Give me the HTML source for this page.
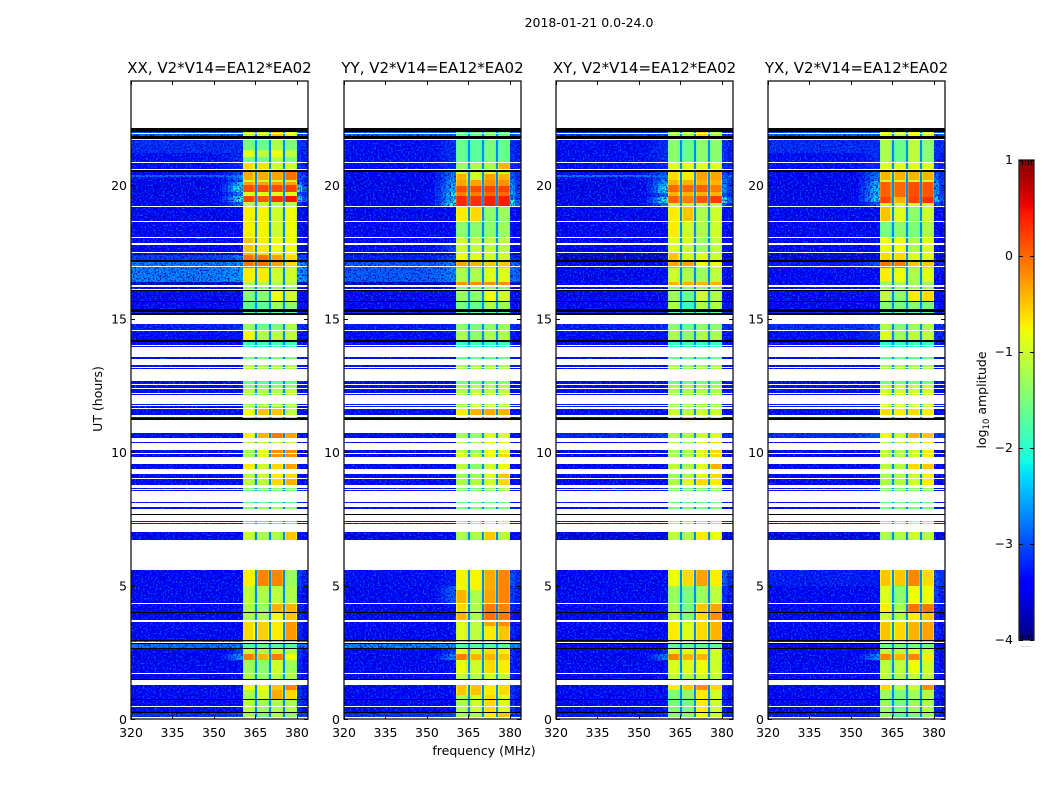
<!DOCTYPE html>
<html>
<head>
<meta charset="utf-8">
<title>2018-01-21 0.0-24.0</title>
<style>
html,body{margin:0;padding:0;background:#fff;width:1050px;height:800px;overflow:hidden}
svg{display:block}
text{font-family:"DejaVu Sans","Liberation Sans",sans-serif;fill:#000}
</style>
</head>
<body>
<svg id="figure" xmlns="http://www.w3.org/2000/svg" width="1050" height="800" viewBox="0 0 1050 800">
<defs>
<filter id="grain" x="0" y="0" width="1" height="1" color-interpolation-filters="sRGB">
<feTurbulence type="fractalNoise" baseFrequency="0.6" numOctaves="1" seed="4" result="n"/>
<feColorMatrix in="n" type="matrix" values="0 0 0 0 0  0 0 0 0 .4  0 0 0 0 1  4 0 0 0 -2.05" result="lightRaw"/>
<feComposite in="lightRaw" in2="SourceAlpha" operator="in" result="light"/>
<feColorMatrix in="n" type="matrix" values="0 0 0 0 0  0 0 0 0 0  0 0 0 0 .72  0 4.5 0 0 -2.1" result="darkRaw"/>
<feComposite in="darkRaw" in2="SourceAlpha" operator="in" result="dark"/>
<feMerge><feMergeNode in="SourceGraphic"/><feMergeNode in="dark"/><feMergeNode in="light"/></feMerge>
</filter>
</defs>
<text x="589" y="27" font-size="12.5" text-anchor="middle">2018-01-21 0.0-24.0</text>
<text x="484" y="755" font-size="12.5" text-anchor="middle">frequency (MHz)</text>
<text x="102" y="399" font-size="12.5" text-anchor="middle" transform="rotate(-90 102 399)">UT (hours)</text>
<text x="986" y="400" font-size="12.5" text-anchor="middle" transform="rotate(-90 986 400)">log<tspan font-size="8.5" dy="3">10</tspan><tspan dy="-3"> amplitude</tspan></text>
<g id="panels"></g>
<g id="colorbar"></g>
</svg>
<script>
// Observation bands in UT hours that hold data
const dataBands = [[.07,.22],[.26,.45],[.49,.71],[.75,1.27],[1.5,1.69],[1.72,2.62],[2.66,2.81],[2.89,2.92],[2.96,3.64],[3.71,3.97],[4.01,4.31],[4.35,5.58],[6.71,7.01],[7.3,7.35],[7.38,7.42],[7.87,7.95],[8.1,8.13],[8.53,8.57],[8.62,8.66],[8.77,8.99],[9.03,9.18],[9.38,9.56],[9.82,9.93],[9.98,10.08],[10.33,10.38],[10.53,10.72],[11.28,11.33],[11.39,11.63],[11.67,11.71],[11.76,11.81],[12.12,12.16],[12.21,12.36],[12.41,12.52],[12.56,12.67],[13.12,13.16],[13.18,13.27],[13.49,13.57],[13.95,13.99],[14.02,14.13],[14.21,14.54],[14.58,14.8],[15.22,15.25],[15.37,15.63],[15.67,16.04],[16.1,16.18],[16.27,16.38],[16.38,16.85],[16.89,16.94],[16.98,17.13],[17.2,17.39],[17.39,17.47],[17.5,17.77],[17.82,18.03],[18.07,18.63],[18.67,19.19],[19.23,20.49],[20.61,20.82],[20.87,21.7],[21.85,21.91],[21.95,22.0]];
// Flagged intervals rendered black
const flaggedBands = [[.22,.26],[.71,.75],[1.46,1.5],[2.62,2.66],[2.81,2.85],[2.92,2.96],[3.97,4.01],[7.65,7.69],[11.19,11.28],[14.13,14.21],[15.14,15.22],[15.25,15.37],[15.63,15.67],[16.04,16.08],[17.13,17.2],[20.49,20.58],[21.74,21.85],[22.0,22.15]];

const panelTitles = ["XX, V2*V14=EA12*EA02","YY, V2*V14=EA12*EA02","XY, V2*V14=EA12*EA02","YX, V2*V14=EA12*EA02"];
const panelKeys = ["xx","yy","xy","yx"];
const freqTicks = [320,335,350,365,380];
const utTicks = [0,5,10,15,20];
const colorbarTicks = [1,0,-1,-2,-3,-4];

// Spectral windows in MHz
const spwRanges = [[360.5,364.7],[365.4,369.9],[370.5,375],[375.6,380]];
const gapRanges = [[364.7,365.4],[369.9,370.5],[375,375.6]];

// log10 amplitude per window: [ut lower edge, spw1, spw2, spw3, spw4]
const spwXX = [[0,-1.2,-1.5,-1.2,-1.4],[.26,-1.1,-1.3,-1.2,-1.2],[.75,-1.2,-.95,-.35,-.6],[1.09,-.75,-.8,-.5,-.15],[1.5,-1.2,-1.3,-1.2,-1.2],[1.72,-1.3,-1.4,-1,-1.3],[2.2,-.1,-.4,-.1,-.8],[2.44,-1.1,-1.2,-1,-1.2],[2.66,-1.7,-1.6,-1.7,-1.7],[2.96,-.6,-.55,-.7,-.25],[3.71,-1.2,-1.2,-.8,-.5],[4.01,-1.2,-1.3,-.4,-.4],[4.35,-1.1,-1.2,-1.1,-1.2],[5,-.7,-.15,-.15,-1.3],[6.71,-1,-1.2,-1.2,-.5],[7.3,-1.9,-1.9,-1.9,-1.9],[7.87,-1.4,-1.3,-1.3,-1.4],[8.1,-1.6,-1.6,-1.6,-1.6],[8.6,-1.4,-1.4,-1.4,-1.4],[8.77,-1.1,-1.1,-.6,-.4],[9.03,-1.1,-1,-.7,-.6],[9.38,-.7,-1,-.6,-.3],[9.82,-1.2,-.85,-.2,-.2],[10.33,-1.1,-1.1,-1.1,-1.1],[10.53,-.75,-.4,-.1,-.3],[11.28,-1.3,-1.3,-1.3,-1.3],[11.39,-.8,-.5,-.5,-1.1],[11.7,-1.2,-1.2,-1.2,-1.2],[12.21,-1.1,-1.2,-1.2,-1.1],[12.41,-1.4,-1.4,-1.4,-1.4],[12.56,-1.6,-1.7,-1.7,-1.6],[13.12,-1.1,-1.2,-1.2,-1.2],[13.49,-1.5,-1.5,-1.5,-1.5],[13.95,-1.9,-1.9,-1.9,-1.9],[14.02,-1.8,-1.8,-1.8,-1.8],[14.21,-.75,-1.2,-1.1,-1.1],[14.58,-1.3,-1.6,-1.5,-1.2],[15.22,-1.7,-1.7,-1.7,-1.7],[15.37,-1.6,-1.6,-1.3,-1.4],[15.67,-1.4,-1.4,-.8,-1],[16.1,-1.4,-1.4,-1.4,-1.4],[16.27,-1.2,-1.2,-1.2,-1.2],[16.38,-.7,-.7,-1,-1],[16.9,-.05,-.05,-.3,-.6],[17.39,-.4,-.6,-.7,-.8],[17.5,-.5,-.7,-.8,-.8],[18.07,-.7,-.75,-1,-.8],[19.23,-1.1,-1.1,-1.1,-1.1],[19.38,.2,.1,.3,.45],[19.6,-.9,-.9,-.9,-.9],[19.75,.15,.15,.15,.2],[20,-.3,-.3,-.3,-.3],[20.12,-1,-1,-1,-1],[20.2,-.35,-.35,-.3,-.05],[20.61,-.6,-.65,-1,-1],[20.87,-1.5,-1.6,-1.2,-1.5],[21.05,-.9,-1.1,-.8,-1.1],[21.3,-1.5,-1.6,-1.2,-1.5],[21.85,-1,-1,-.5,-.9]];
const spwYY = [[0,-1.2,-1.2,-.7,-.5],[.26,-1.2,-1,-.6,-.9],[.75,-1.2,-1,-.6,-.9],[.9,-.5,-.5,-.7,-.6],[1.5,-1.1,-1.2,-1,-1.1],[1.72,-.8,-1,-.6,-.7],[2.2,-.1,-.4,-.4,-.5],[2.44,-.8,-1,-.6,-.7],[2.66,-1.7,-1.7,-1.7,-1.7],[2.96,-.9,-1.1,-.7,-.5],[3.5,-.9,-1.1,-.3,-.2],[3.71,-.4,-1.2,-.05,-.1],[4.01,-.6,-1.2,-.1,-.15],[4.35,-.4,-1.2,-.3,-.15],[4.83,-.75,-.75,-.35,-.15],[6.71,-1.2,-1.2,-.5,-1.1],[7.3,-1.2,-1.3,-.9,-.8],[7.6,-1.5,-1.5,-1.5,-1.5],[8.5,-1.4,-1.5,-1.3,-1.2],[8.77,-1.2,-1.2,-1,-.6],[9.03,-1.3,-1.3,-.9,-.5],[9.38,-1.1,-1.4,-1,-.8],[9.82,-.9,-1.1,-.8,-.6],[9.98,-1.1,-1.3,-.8,-.9],[10.53,-1.2,-1.3,-.9,-.9],[11.28,-.8,-.6,-.5,-.5],[11.39,-.7,-.4,-.35,-.4],[11.67,-1.2,-1.1,-1.1,-1.1],[12.56,-1.5,-1.5,-1.4,-1.4],[13.12,-1.2,-1.2,-1.2,-1.2],[13.49,-1.6,-1.6,-1.6,-1.6],[13.95,-1.9,-1.9,-1.9,-1.9],[14.21,-1.2,-1.4,-1.2,-1.2],[14.58,-1.4,-1.5,-1.4,-1.3],[15.22,-1.7,-1.7,-1.7,-1.7],[15.37,-1.5,-1.6,-1.2,-1.3],[15.67,-1.3,-1.4,-.8,-1],[16.1,-1.4,-1.4,-1.4,-1.4],[16.27,-.2,-.2,-.2,-.2],[16.38,-1.2,-1.2,-.9,-.9],[16.9,-.3,-.4,-.5,-.5],[17.2,-.8,-.9,-1,-1],[17.5,-1,-1.1,-1.1,-1.1],[18.07,-1.4,-1.4,-1.4,-1.3],[18.67,-.7,-.6,-1.4,-1.3],[19.23,.35,.3,.4,.4],[19.6,-.1,-.1,0,0],[19.75,.15,.15,.2,.2],[19.95,-.3,-.3,-.2,-.2],[20.2,-.4,-1,-.3,-.4],[20.4,-1,-1,-.9,-1],[20.61,-1.3,-1.2,-1.2,-.4],[20.87,-1.6,-1.7,-1.5,-1.6],[21.85,-1.6,-1.6,-1.4,-1.6]];
const spwXY = [[0,-1.4,-1.4,-.8,-1],[.26,-1.5,-1.5,-.7,-1],[.75,-1.5,-1.4,-.7,-1],[1.09,-.7,-.5,-.2,-.6],[1.5,-1.1,-1.2,-1,-1.1],[1.72,-.9,-.9,-.8,-1],[2.2,-.15,-.4,-.4,-1],[2.44,-.9,-.9,-.8,-1],[2.66,-1.6,-1.6,-1.6,-1.6],[2.96,-.7,-.9,-.6,-.4],[3.71,-1.1,-1.4,-.6,-.2],[4.01,-1.2,-1.5,-.5,-.3],[4.35,-1.3,-1.5,-1.3,-1.1],[5,-.8,-.6,-.3,-.7],[6.71,-1.1,-1.2,-.7,-.8],[7.3,-1.3,-1.4,-1.2,-1.2],[7.6,-1.5,-1.5,-1.5,-1.5],[8.5,-1.4,-1.5,-1.4,-1.3],[8.77,-1.2,-.9,-.6,-.7],[9.03,-1.3,-1.2,-.9,-.6],[9.38,-1.1,-1.2,-.9,-.4],[9.82,-1.2,-1.2,-.9,-.6],[10.53,-1.1,-1.2,-1,-.9],[11.28,-1.1,-1.1,-1,-1],[11.39,-1,-1.1,-1,-1],[11.67,-1.2,-1.2,-1.2,-1.2],[12.56,-1.6,-1.6,-1.5,-1.5],[13.12,-1.2,-1.3,-1.2,-1.2],[13.49,-1.6,-1.6,-1.6,-1.6],[13.95,-1.9,-1.9,-1.9,-1.9],[14.21,-1.2,-1.4,-1.2,-1.2],[14.58,-1.4,-1.6,-1.4,-1.4],[15.22,-1.7,-1.7,-1.7,-1.7],[15.37,-1.2,-1.9,-1.2,-1.2],[15.67,-1.3,-1.6,-1,-1.2],[16.1,-1.4,-1.4,-1.4,-1.4],[16.27,-.4,-.4,-.4,-.4],[16.38,-1,-1.2,-1.3,-1.1],[16.9,-.3,-.3,-.8,-.8],[17.2,-.5,-1,-.9,-1],[17.5,-.9,-1,-1.3,-1.1],[18.07,-.7,-1,-1.2,-1],[18.67,-.7,-.5,-1.2,-1],[19.23,-1.1,-1.1,-1.1,-1.1],[19.33,.05,-.1,.1,.25],[19.6,-.4,-.4,-.4,-.4],[19.75,0,0,.05,-.1],[20,-.4,-.4,-.4,-.4],[20.2,-.6,-.7,-.3,-.3],[20.61,-.9,-.9,-.9,-.9],[20.87,-1.4,-1.6,-1.4,-1.4],[21.85,-1.2,-1.2,-.6,-1.2]];
const spwYX = [[0,-1.3,-1.7,-1.5,-1.3],[.26,-1.3,-1.5,-1.3,-1.2],[1.09,-.6,-1.1,-1,-.2],[1.5,-1.1,-1.2,-1.1,-1.1],[1.72,-1.1,-1.1,-.8,-1],[2.2,-.15,-.4,-.15,-.7],[2.44,-1.1,-1.1,-.8,-1],[2.66,-1.5,-1.5,-1.5,-1.5],[2.96,-.5,-.6,-.4,-.3],[3.71,-1,-1.2,-.7,-.5],[4.01,-.7,-1.2,-.05,-.05],[4.35,-.9,-1.4,-.8,-.8],[5,-.5,-.5,-.15,-.6],[6.71,-1.2,-1.2,-1,-1.1],[7.3,-1.2,-1.3,-1.1,-1.1],[7.6,-1.5,-1.5,-1.5,-1.5],[8.5,-1.4,-1.5,-1.4,-1.3],[8.77,-1.2,-1.2,-1,-.7],[9.38,-1.1,-1.2,-.6,-.5],[9.82,-1.1,-1.2,-1,-.7],[10.53,-.8,-1,-.4,-.5],[11.28,-.9,-.9,-.8,-.8],[11.39,-.6,-.7,-.6,-.7],[11.67,-1,-1,-1,-1],[12.56,-1.5,-1.5,-1.5,-1.5],[13.12,-1.2,-1.2,-1.2,-1.2],[13.49,-1.6,-1.6,-1.6,-1.6],[13.95,-1.9,-1.9,-1.9,-1.9],[14.21,-.9,-1.3,-1.1,-1.1],[14.58,-1.2,-1.5,-1.3,-1.2],[15.22,-1.7,-1.7,-1.7,-1.7],[15.37,-1.4,-1.5,-1.4,-1.5],[15.67,-1.1,-1.4,-.7,-.6],[16.1,-1.3,-1.3,-1.3,-1.3],[16.38,-.7,-.8,-1.2,-.9],[16.9,-.05,-.1,-.5,-.5],[17.2,-.6,-.6,-.9,-.9],[17.5,-.8,-.8,-1.2,-.9],[18.07,-1.5,-1.4,-1.5,-1.2],[18.67,-.5,-.9,-1.4,-1],[19.23,-1,-1,-1,-1],[19.33,.2,-.4,.2,.3],[19.55,.05,0,.15,.1],[20.1,-1,-1,-1,-1],[20.2,-.4,-.4,-.4,-.4],[20.61,-.9,-.9,-.9,-.9],[20.87,-1.2,-1.6,-1.1,-1.4],[21.85,-.9,-1.1,-.8,-1]];

// log10 amplitude outside the windows: [ut lower edge, low band, band-edge shoulder, above 380 MHz]
const bgXX = [[0,-3.1,-3,-3],[.22,-3.45,-3.35,-3.15],[1.5,-3.45,-3.35,-3.25],[2.2,-3.5,-2.5,-3.15],[2.44,-3.5,-3.05,-3.15],[2.66,-2.7,-2.65,-2.65],[2.96,-3.45,-3.35,-3.25],[5,-3.4,-3.4,-3.05],[6.71,-3.5,-3.45,-3.35],[7.3,-3.35,-3.35,-3.35],[14.58,-3.25,-3.15,-3.15],[15.22,-3.15,-3.15,-3.15],[15.37,-3.45,-3.35,-3.35],[16.27,-3.7,-3.65,-3.65],[16.38,-2.65,-2.5,-2.5],[17.2,-3.05,-2.65,-2.95],[17.39,-3.7,-3.65,-3.65],[17.5,-3.45,-3.35,-3.35],[19.23,-3.5,-2.8,-3.1],[19.38,-3.5,-2,-2.2],[19.6,-3.5,-2.7,-2.9],[19.75,-3.5,-2,-2.1],[20,-3.5,-2.3,-2.6],[20.12,-3.5,-2.9,-3.1],[20.2,-3.45,-2.6,-2.9],[20.3,-2.8,-2.6,-2.9],[20.37,-3.45,-2.9,-3],[20.5,-3.35,-3.15,-3.15],[21.2,-3.15,-3.15,-3.15],[21.74,-3.7,-3.7,-3.7],[21.85,-2.85,-2.85,-2.85]];
const bgYY = [[0,-3.1,-3,-3],[.22,-3.45,-3.35,-3.15],[1.5,-3.45,-3.35,-3.25],[2.2,-3.5,-2.6,-3.15],[2.44,-3.5,-3.05,-3.15],[2.66,-2.6,-2.55,-2.55],[2.96,-3.45,-3.35,-3.25],[4.35,-3.45,-2.85,-3.05],[5,-3.35,-3.25,-2.95],[6.71,-3.55,-3.45,-3.45],[7.3,-3.35,-3.35,-3.35],[14.58,-3.3,-3.25,-3.15],[15.22,-3.15,-3.15,-3.15],[15.37,-3.45,-3.35,-3.35],[16.27,-3.7,-3.65,-3.65],[16.38,-2.85,-2.6,-2.75],[17.2,-3.25,-2.95,-3.15],[17.39,-3.7,-3.65,-3.65],[17.5,-3.45,-2.95,-3.35],[17.82,-3.45,-3.35,-3.35],[19.23,-3.5,-2,-2.1],[19.45,-3.5,-2.3,-2.6],[19.6,-3.5,-2.1,-2.4],[19.75,-3.5,-2.4,-2.6],[20,-3.5,-2.5,-2.6],[20.2,-3.45,-2.7,-2.9],[20.5,-3.35,-3.15,-3.15],[21.74,-3.7,-3.7,-3.7],[21.85,-2.85,-2.85,-2.85]];
const bgXY = [[0,-3.25,-3.15,-3.15],[.22,-3.45,-3.35,-3.25],[1.5,-3.45,-3.35,-3.25],[2.2,-3.5,-2.65,-3.25],[2.44,-3.5,-3.25,-3.25],[2.66,-3.5,-3.45,-3.45],[2.96,-3.45,-3.35,-3.35],[4.35,-3.45,-3.35,-3.15],[5,-3.4,-3.35,-2.85],[6.71,-3.6,-3.55,-3.55],[7.3,-3.4,-3.35,-3.35],[10.53,-3.2,-3.05,-3.15],[11,-3.35,-3.35,-3.35],[14.58,-3.25,-3.15,-3.15],[15.22,-3.15,-3.15,-3.15],[15.37,-3.45,-3.35,-3.35],[16.38,-3.5,-3.35,-3.35],[17.13,-3.75,-3.7,-3.7],[17.5,-3.45,-3.35,-3.35],[19.23,-3.5,-2.7,-2.8],[19.33,-3.5,-2,-2],[19.55,-3.5,-2.8,-2.9],[19.7,-3.5,-2.2,-2.6],[20.05,-3.5,-2.5,-2.7],[20.2,-3.35,-2.8,-2.8],[20.3,-2.7,-2.7,-2.8],[20.37,-3.35,-2.9,-3],[20.5,-3.35,-3.15,-3.15],[21.74,-3.7,-3.7,-3.7],[21.85,-3.05,-3.05,-3.05]];
const bgYX = [[0,-3.25,-3.15,-3.15],[.22,-3.45,-3.35,-3.25],[1.5,-3.45,-3.35,-3.25],[2.2,-3.5,-2.55,-3.25],[2.44,-3.5,-3.15,-3.25],[2.66,-3.55,-3.5,-3.45],[2.96,-3.45,-3.35,-3.25],[4.35,-3.45,-3.35,-3.05],[5,-3.25,-3.3,-2.95],[6.71,-3.6,-3.55,-3.55],[7.3,-3.4,-3.35,-3.35],[10.53,-3.15,-2.85,-3.05],[11,-3.35,-3.35,-3.35],[14.21,-3.35,-3.15,-3.15],[14.58,-3.15,-2.95,-3.15],[15.22,-3.15,-3.15,-3.15],[15.37,-3.45,-3.35,-3.35],[16.38,-3.45,-3.35,-3.35],[16.9,-3.25,-2.85,-3.15],[17.2,-3.65,-3.55,-3.55],[17.5,-3.45,-3.35,-3.35],[19.23,-3.5,-2.9,-3],[19.38,-3.5,-2.1,-2.2],[19.6,-3.5,-2.3,-2.6],[20,-3.5,-2.4,-2.5],[20.15,-3.45,-2.7,-2.8],[20.5,-3.35,-3.15,-3.15],[21.2,-3.15,-3.15,-3.15],[21.74,-3.7,-3.7,-3.7],[21.85,-2.85,-2.85,-2.85]];

const spwRows = {xx:spwXX,yy:spwYY,xy:spwXY,yx:spwYX};
const bgRows = {xx:bgXX,yy:bgYY,xy:bgXY,yx:bgYX};

const panelLefts = [131,344,556,768];
const panelWidth = 177, plotTop = 81, plotBottom = 719;
const freqMin = 320, freqMax = 384, utMax = 23.9, ampMin = -4, ampMax = 1;
const NS = "http://www.w3.org/2000/svg";

function jet(t){
  const lerp=(p)=>{for(let i=1;i<p.length;i++){if(t<=p[i][0]){const a=p[i-1],b=p[i];return a[1]+(b[1]-a[1])*(t-a[0])/(b[0]-a[0]);}}return p[p.length-1][1];};
  const r=lerp([[0,0],[.35,0],[.66,1],[.89,1],[1,.5]]);
  const g=lerp([[0,0],[.125,0],[.375,1],[.64,1],[.91,0],[1,0]]);
  const b=lerp([[0,.5],[.11,1],[.34,1],[.65,0],[1,0]]);
  return "rgb("+Math.round(r*255)+","+Math.round(g*255)+","+Math.round(b*255)+")";
}
function ampColor(v){return jet(Math.max(0,Math.min(1,(v-ampMin)/(ampMax-ampMin))));}
function yScale(ut){return plotBottom-(plotBottom-plotTop)*ut/utMax;}
function xScale(left,f){return left+panelWidth*(f-freqMin)/(freqMax-freqMin);}
function rowFor(rows,ut){let r=rows[0];for(const row of rows){if(row[0]<=ut+1e-6)r=row;}return r;}
function make(tag,attrs,parent){const el=document.createElementNS(NS,tag);for(const k in attrs)el.setAttribute(k,attrs[k]);parent.appendChild(el);return el;}
function blend(a,b,w){return a*(1-w)+b*w;}

function cell(parent,left,f0,f1,u0,u1,v){
  const x0=Math.round(xScale(left,f0)),x1=Math.round(xScale(left,f1));
  const y0=Math.round(yScale(u1));
  const y1=Math.max(y0+1,Math.round(yScale(u0)));
  if(x1<=x0)return;
  const el=make("rect",{x:x0,width:x1-x0,y:y0,height:y1-y0,fill:ampColor(v),"shape-rendering":"crispEdges"},parent);
  
  
}

const panelsRoot=document.getElementById("panels");
panelKeys.forEach(function(key,p){
  const left=panelLefts[p];
  const g=make("g",{},panelsRoot);
  
  
  const title=make("text",{x:left+panelWidth/2,y:73,"font-size":"15","text-anchor":"middle"},g);
  title.textContent=panelTitles[p];
  
  
  const bgGroup=make("g",{filter:"url(#grain)"},g);
  
  
  const spwGroup=make("g",{},g);
  
  
  const sRows=spwRows[key], bRows=bgRows[key];
  const knots=sRows.map(r=>r[0]).concat(bRows.map(r=>r[0]));
  dataBands.forEach(function(band){
    const edges=[band[0],band[1]].concat(knots.filter(k=>k>band[0]&&k<band[1])).sort((a,b)=>a-b);
    for(let i=0;i<edges.length-1;i++){
      const u0=edges[i],u1=edges[i+1];
      if(u1-u0<1e-6)continue;
      const s=rowFor(sRows,u0), b=rowFor(bRows,u0);
      cell(bgGroup,left,320,350,u0,u1,b[1]);
      cell(bgGroup,left,350,353,u0,u1,blend(b[1],b[2],.1));
      cell(bgGroup,left,353,355,u0,u1,blend(b[1],b[2],.3));
      cell(bgGroup,left,355,357,u0,u1,blend(b[1],b[2],.55));
      cell(bgGroup,left,357,358.5,u0,u1,blend(b[1],b[2],.8));
      cell(bgGroup,left,358.5,360.5,u0,u1,b[2]);
      cell(bgGroup,left,380,382,u0,u1,b[3]);
      cell(bgGroup,left,382,384,u0,u1,blend(b[3],b[1],.5));
      spwRanges.forEach(function(range,w){
        const v=s[w+1];
        cell(spwGroup,left,range[0],range[0]+.5,u0,u1,v-.22);
        cell(spwGroup,left,range[0]+.5,range[1]-.5,u0,u1,v);
        cell(spwGroup,left,range[1]-.5,range[1],u0,u1,v-.22);
      });
      gapRanges.forEach(function(range){
        cell(spwGroup,left,range[0],range[1],u0,u1,-2.7);
      });
    }
  });
  flaggedBands.forEach(function(band){
    const y0=Math.round(yScale(band[1]));
    const y1=Math.max(y0+1,Math.round(yScale(band[0])));
    const el=make("rect",{x:left,width:panelWidth,y:y0,height:y1-y0,fill:"#000","shape-rendering":"crispEdges"},g);
    
    
  });
  const frame=make("rect",{x:left,y:plotTop,width:panelWidth,height:plotBottom-plotTop,fill:"none",stroke:"#111","stroke-width":"1.3"},g);
  
  
  freqTicks.forEach(function(f){
    const x=Math.round(xScale(left,f))+.5;
    make("line",{x1:x,x2:x,y1:plotBottom,y2:plotBottom-4,stroke:"#000","stroke-width":"1"},g);
    make("line",{x1:x,x2:x,y1:plotTop,y2:plotTop+4,stroke:"#000","stroke-width":"1"},g);
    const t=make("text",{x:xScale(left,f),y:737,"font-size":"12.5","text-anchor":"middle"},g);
    t.textContent=f;
    
    
  });
  utTicks.forEach(function(u){
    const y=Math.round(yScale(u))+.5;
    make("line",{x1:left,x2:left+4,y1:y,y2:y,stroke:"#000","stroke-width":"1"},g);
    make("line",{x1:left+panelWidth,x2:left+panelWidth-4,y1:y,y2:y,stroke:"#000","stroke-width":"1"},g);
    const t=make("text",{x:left-4,y:yScale(u)+5,"font-size":"12.5","text-anchor":"end"},g);
    t.textContent=u;
    
    
  });
});

// Colorbar
const cb=document.getElementById("colorbar");
const cbLeft=1019,cbRight=1034,cbTop=160,cbBottom=640;
function cbY(v){return cbBottom-(cbBottom-cbTop)*(v-ampMin)/(ampMax-ampMin);}
for(let py=cbTop;py<cbBottom;py++){
  const frac=(cbBottom-py-.5)/(cbBottom-cbTop);
  make("rect",{x:cbLeft,y:py,width:cbRight-cbLeft,height:1,fill:jet(frac),"shape-rendering":"crispEdges"},cb);
}
const cbFrame=make("rect",{x:cbLeft,y:cbTop,width:cbRight-cbLeft,height:cbBottom-cbTop,fill:"none",stroke:"#222","stroke-width":"1.3"},cb);


colorbarTicks.forEach(function(v){
  const y=Math.round(cbY(v))+.5;
  make("line",{x1:cbLeft,x2:cbLeft+4,y1:y,y2:y,stroke:"#000","stroke-width":"1"},cb);
  make("line",{x1:cbRight,x2:cbRight-4,y1:y,y2:y,stroke:"#000","stroke-width":"1"},cb);
  const t=make("text",{x:1013,y:cbY(v)+4,"font-size":"12.5","text-anchor":"end"},cb);
  t.textContent=String(v).replace("-","\u2212");
  
  
});
[1022.5,1025.5,1028.5,1031.5].forEach(function(x){
  make("line",{x1:x,x2:x,y1:cbTop,y2:cbTop+5,stroke:"#000","stroke-width":"1"},cb);
  make("line",{x1:x,x2:x,y1:cbBottom,y2:cbBottom-5,stroke:"#000","stroke-width":"1"},cb);
});
const cbDots=make("text",{x:1026,y:647,"font-size":"6","text-anchor":"middle",style:"fill:#888"},cb);
cbDots.textContent="......";


</script>
</body>
</html>
